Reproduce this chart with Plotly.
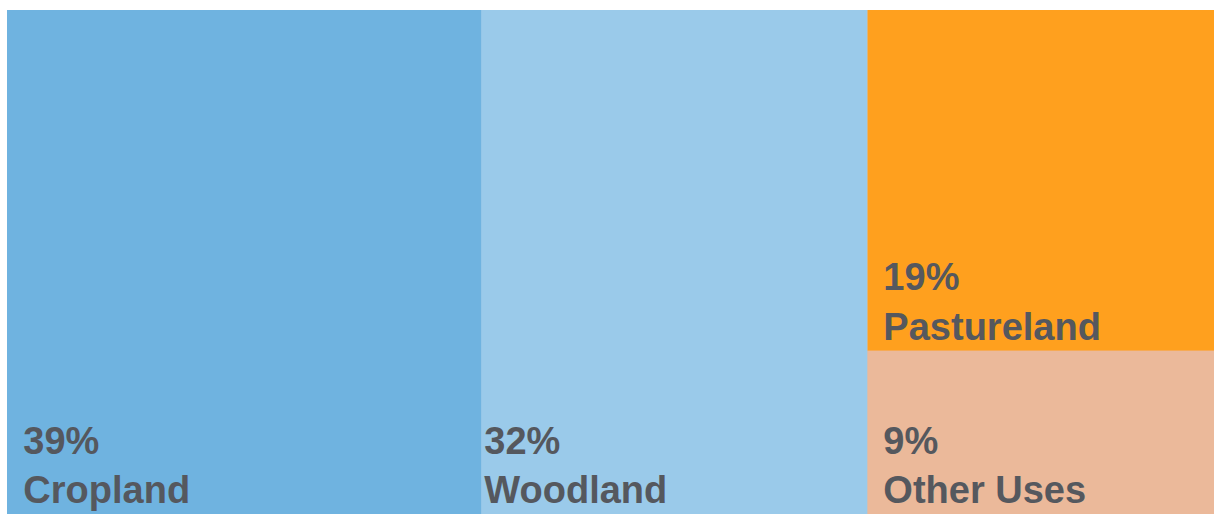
import plotly.graph_objects as go

categories = ["Cropland", "Woodland", "Pastureland", "Other Uses"]
shares = [39.3, 32.0, 19.4, 9.3]
parents_of = ["", "", "Grazing & Other", "Grazing & Other"]
colors = ["#6FB3E0", "#9ACAEA", "#FFA01E", "#EBB99A"]

group_name = "Grazing & Other"

# label indent (font size of two non-breaking spaces) per tile
indent_sizes = [24, 0, 23, 23]


def indent(sz):
    return f'<span style="font-size:{sz}px">\u00a0\u00a0</span>' if sz else ""


ids = categories + [group_name]
labels = categories + [""]
parents = parents_of + [""]
values = shares + [0]
marker_colors = colors + ["#EBB99A"]
texts = [
    f"{indent(s)}{v:.0f}%<br>{indent(s)}{c}"
    for v, c, s in zip(shares, categories, indent_sizes)
] + [""]

fig = go.Figure(go.Treemap(
    ids=ids,
    labels=labels,
    parents=parents,
    values=values,
    branchvalues="remainder",
    sort=False,
    text=texts,
    textinfo="text",
    textposition="bottom left",
    textfont=dict(family="Liberation Sans", size=38, color="#55585E", weight="bold"),
    marker=dict(colors=marker_colors, line=dict(width=0), pad=dict(t=0, l=0, r=0, b=0)),
    tiling=dict(packing="slice-dice", pad=0),
    pathbar=dict(visible=False),
    root=dict(color="#9ACAEA"),
    hoverinfo="skip",
))

fig.update_layout(
    width=1214,
    height=514,
    margin=dict(l=7, r=0, t=10, b=0),
    paper_bgcolor="white",
    plot_bgcolor="white",
    uniformtext=dict(minsize=10),
)

fig.write_html(
    "out.html",
    config={"displayModeBar": False},
    post_script="document.body.style.margin='0';document.body.style.overflow='hidden';",
)
